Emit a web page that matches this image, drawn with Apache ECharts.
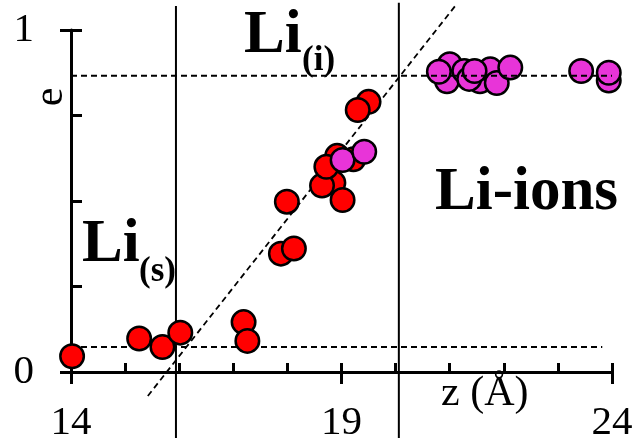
<!DOCTYPE html>
<html>
<head>
<meta charset="utf-8">
<script src="https://cdn.jsdelivr.net/npm/echarts@6/dist/echarts.min.js"></script>
<style>
  html, body { margin: 0; padding: 0; background: #fff; }
  #chart { width: 634px; height: 438px; }
</style>
</head>
<body>
<div id="chart"></div>
<script>
// Li atoms in the solid / interface region (z in Å, e = charge)
const solidZ = [14.02, 15.26, 15.69, 16.02, 17.19, 17.26, 17.88, 18.12, 17.99,
                19.50, 19.30, 18.85, 19.02, 18.64, 19.22, 18.92, 18.72];
const solidE = [0.046, 0.098, 0.073, 0.115, 0.146, 0.091, 0.346, 0.361, 0.498,
                0.790, 0.766, 0.553, 0.503, 0.545, 0.622, 0.632, 0.600];

// Li ions in the electrolyte
const ionZ = [19.02, 19.42, 21.00, 20.95, 20.80, 21.27, 21.56, 21.75, 21.87,
              22.12, 21.36, 21.46, 23.43, 23.94, 23.94];
const ionE = [0.620, 0.644, 0.900, 0.850, 0.878, 0.880, 0.850, 0.885, 0.845,
              0.890, 0.857, 0.880, 0.880, 0.852, 0.875];

// region boundaries and reference levels
const boundaryZ = [15.94, 20.06];
const boundarySpanE = [[-0.2, 1.07], [-0.2, 1.08]];
const lowLevelE = 0.073;
const lowLevelZ = [14, 23.82];
const highLevelE = 0.866;
const highLevelZ = [14, 24];
const fitZ = [15.42, 21.10];
const fitE = [-0.07, 1.07];

// axis ticks
const zRange = [14, 24];
const eRange = [0, 1];

const serif = "'Liberation Serif', 'Times New Roman', serif";
const ink = '#000';

const chart = echarts.init(document.getElementById('chart'), null, { renderer: 'canvas' });

const lineBase = {
  type: 'line', symbol: 'none', clip: false, silent: true,
  xAxisIndex: 0, yAxisIndex: 0
};

const series = [];
boundaryZ.forEach((z, i) => {
  series.push(Object.assign({}, lineBase, {
    z: 1,
    data: [[z, boundarySpanE[i][0]], [z, boundarySpanE[i][1]]],
    lineStyle: { color: ink, width: 2 }
  }));
});
series.push(Object.assign({}, lineBase, {
  z: 1,
  data: [[lowLevelZ[0], lowLevelE], [lowLevelZ[1], lowLevelE]],
  lineStyle: { color: ink, width: 2, type: [6, 4] }
}));
series.push(Object.assign({}, lineBase, {
  z: 1,
  data: [[fitZ[0], fitE[0]], [fitZ[1], fitE[1]]],
  lineStyle: { color: ink, width: 1.8, type: [6, 4] }
}));
series.push({
  type: 'scatter', z: 3, xAxisIndex: 0, yAxisIndex: 0,
  symbol: 'circle', symbolSize: 23.5,
  itemStyle: { color: '#ff0000', borderColor: ink, borderWidth: 2.5, opacity: 1 },
  data: solidZ.map((z, i) => [z, solidE[i]])
});
series.push({
  type: 'scatter', z: 4, xAxisIndex: 0, yAxisIndex: 0,
  symbol: 'circle', symbolSize: 23.5,
  itemStyle: { color: '#e834d8', borderColor: ink, borderWidth: 2.5, opacity: 1 },
  data: ionZ.map((z, i) => [z, ionE[i]])
});
series.push(Object.assign({}, lineBase, {
  z: 5,
  data: [[highLevelZ[0], highLevelE], [highLevelZ[1], highLevelE]],
  lineStyle: { color: ink, width: 2, type: [6, 4] }
}));

function txt(x, y, text, size, bold, extra) {
  return Object.assign({
    type: 'text', x: x, y: y, silent: true, z: 10,
    style: {
      text: text, fill: ink, fontSize: size, fontFamily: serif,
      fontWeight: bold ? 'bold' : 'normal',
      align: 'left', verticalAlign: 'middle',
      textAlign: 'left', textVerticalAlign: 'middle'
    }
  }, extra || {});
}

chart.setOption({
  animation: false,
  backgroundColor: '#fff',
  grid: { left: 71, right: 22, top: 30, bottom: 66, containLabel: false, outerBoundsMode: 'none' },
  xAxis: [
    {
      type: 'value', min: zRange[0], max: zRange[1], interval: 1, position: 'bottom',
      axisLine: { lineStyle: { color: ink, width: 3 } },
      axisTick: { inside: true, length: 9, lineStyle: { color: ink, width: 3 } },
      axisLabel: { show: false }, splitLine: { show: false }
    },
    {
      type: 'value', min: zRange[0], max: zRange[1], interval: 5, position: 'bottom',
      axisLine: { show: false },
      axisTick: { inside: false, length: 12, lineStyle: { color: ink, width: 3 } },
      axisLabel: { color: ink, fontSize: 41, fontFamily: serif, margin: 31 },
      splitLine: { show: false }
    }
  ],
  yAxis: [
    {
      type: 'value', min: eRange[0], max: eRange[1], interval: 0.25, position: 'left',
      axisLine: { lineStyle: { color: ink, width: 3 } },
      axisTick: { inside: true, length: 11, lineStyle: { color: ink, width: 3 } },
      axisLabel: { show: false }, splitLine: { show: false }
    },
    {
      type: 'value', min: eRange[0], max: eRange[1], interval: 1, position: 'left',
      axisLine: { show: false },
      axisTick: { inside: false, length: 11, lineStyle: { color: ink, width: 3 } },
      axisLabel: { color: ink, fontSize: 41, fontFamily: serif, margin: 37 },
      splitLine: { show: false }
    }
  ],
  graphic: [
    txt(441, 394, 'z (Å)', 42, false),
    txt(51, 97, 'e', 42, false, { rotation: Math.PI / 2, style: {
      text: 'e', fill: ink, fontSize: 42, fontFamily: serif,
      align: 'center', verticalAlign: 'middle', textAlign: 'center', textVerticalAlign: 'middle' } }),
    txt(244, 36, 'Li', 61, true),
    txt(302, 61, '(i)', 35, true),
    txt(82, 245, 'Li', 61, true),
    txt(139, 272, '(s)', 35, true),
    txt(435, 193, 'Li-ions', 61, true)
  ],
  series: series
});
</script>
</body>
</html>
